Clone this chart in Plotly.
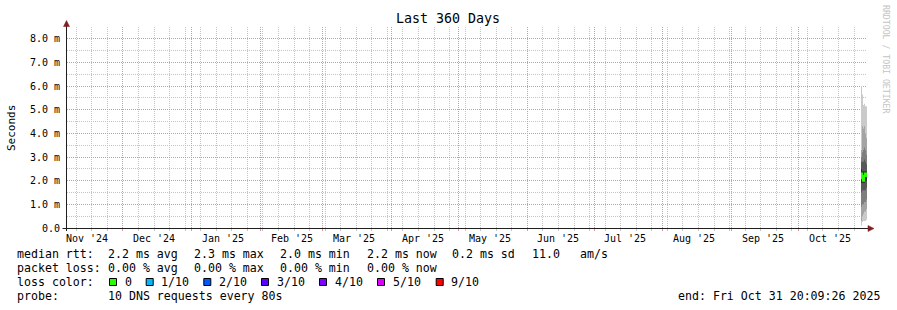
import plotly.graph_objects as go
import pandas as pd

# ---------------- data ----------------
x_start = "2024-11-05 20:09:26"
x_end = "2025-10-31 20:09:26"

month_starts = ["2024-12-01", "2025-01-01", "2025-02-01", "2025-03-01", "2025-04-01",
                "2025-05-01", "2025-06-01", "2025-07-01", "2025-08-01", "2025-09-01",
                "2025-10-01"]
month_label_pos = ["2024-11-15", "2024-12-15", "2025-01-15", "2025-02-15", "2025-03-15",
                   "2025-04-15", "2025-05-15", "2025-06-15", "2025-07-15", "2025-08-15",
                   "2025-09-15", "2025-10-15"]
month_labels = ["Nov '24", "Dec '24", "Jan '25", "Feb '25", "Mar '25", "Apr '25",
                "May '25", "Jun '25", "Jul '25", "Aug '25", "Sep '25", "Oct '25"]

y_tick_vals = [0, 1, 2, 3, 4, 5, 6, 7, 8]
y_tick_text = ["0.0", "1.0 m", "2.0 m", "3.0 m", "4.0 m", "5.0 m", "6.0 m", "7.0 m", "8.0 m"]

sample_times = ["2025-10-29 03:20", "2025-10-29 14:10", "2025-10-30 01:00",
                "2025-10-30 11:50", "2025-10-30 22:40", "2025-10-31 09:30"]
# sorted ping round-trip times (ms) per sample, rank 1 (fastest) .. rank 10 (slowest)
ping_rank_01 = [0.10, 0.25, 0.30, 0.30, 0.30, 0.35]
ping_rank_02 = [0.30, 0.50, 0.60, 0.70, 0.70, 0.80]
ping_rank_03 = [0.90, 1.00, 1.00, 1.10, 1.10, 1.20]
ping_rank_04 = [1.50, 1.60, 1.60, 1.60, 1.60, 1.70]
ping_rank_05 = [1.90, 1.90, 1.90, 1.90, 2.00, 2.00]
ping_rank_06 = [2.50, 2.40, 2.40, 2.40, 2.40, 2.40]
ping_rank_07 = [2.80, 2.80, 2.80, 2.90, 2.80, 2.70]
ping_rank_08 = [3.00, 3.20, 3.30, 3.40, 3.30, 3.10]
ping_rank_09 = [3.30, 4.30, 4.20, 4.30, 4.00, 3.80]
ping_rank_10 = [6.00, 5.65, 5.20, 5.25, 5.15, 5.15]
median_rtt_ms = [2.3, 2.1, 2.0, 2.2, 2.3, 2.2]

median_stats = ["2.2 ms avg", "2.3 ms max", "2.0 ms min", "2.2 ms now", "0.2 ms sd", "11.0", "am/s"]
loss_stats = ["0.00 % avg", "0.00 % max", "0.00 % min", "0.00 % now"]
loss_labels = ["0", "1/10", "2/10", "3/10", "4/10", "5/10", "9/10"]
loss_colors = ["#26ff00", "#00b8ff", "#0059ff", "#5e00ff", "#7e00ff", "#dd00ff", "#ff0000"]
probe_text = "10 DNS requests every 80s"
end_text = "end: Fri Oct 31 20:09:26 2025"

# ---------------- layout constants ----------------
W, H = 897, 310
L, R, T, B = 67, 30, 27, 82
PW = W - L - R
PH = H - T - B
BOTTOM = H - B
MONO = "DejaVu Sans Mono"


def px(xp):
    return (xp - L) / PW


def py(yp):
    return (BOTTOM - yp) / PH


ranks = [ping_rank_01, ping_rank_02, ping_rank_03, ping_rank_04, ping_rank_05,
         ping_rank_06, ping_rank_07, ping_rank_08, ping_rank_09, ping_rank_10]
xs = sample_times + [x_end]


def ext(v):
    return list(v) + [v[-1]]


fig = go.Figure()
half = len(ranks) // 2
for i in range(half):
    c = int(190 / half * (half - 1 - i)) + 50
    col = "#%02x%02x%02x" % (c, c, c)
    fig.add_trace(go.Scatter(x=xs, y=ext(ranks[i]), mode="lines", line=dict(width=0, shape="hv"),
                             showlegend=False, hoverinfo="skip"))
    fig.add_trace(go.Scatter(x=xs, y=ext(ranks[len(ranks) - 1 - i]), mode="lines",
                             line=dict(width=0, shape="hv"), fill="tonexty", fillcolor=col,
                             showlegend=False, hoverinfo="skip"))

fig.add_trace(go.Scatter(x=xs, y=ext(median_rtt_ms), mode="lines",
                         line=dict(color=loss_colors[0], width=2, shape="hv"),
                         showlegend=False, hoverinfo="skip"))

grid_minor = "#c4c4c4"
grid_major = "#eb9090"
DASH = "1px,1px"

# weekly minor grid (Sundays), skipping month starts
weeks = [d.strftime("%Y-%m-%d") for d in pd.date_range("2024-11-10", "2025-10-31", freq="7D")]
weeks = [d for d in weeks if d not in month_starts]
half_steps = [v + 0.5 for v in y_tick_vals]

fig.update_layout(
    width=W, height=H,
    margin=dict(l=L, r=R, t=T, b=B, pad=0),
    paper_bgcolor="white", plot_bgcolor="white",
    showlegend=False,
    xaxis=dict(
        type="date", range=[x_start, x_end],
        tickmode="array", tickvals=month_starts, ticktext=[""] * len(month_starts),
        showticklabels=False, ticks="outside", ticklen=2, tickcolor=grid_major,
        showgrid=True, gridcolor=grid_major, griddash=DASH, gridwidth=1,
        minor=dict(tickmode="array", tickvals=weeks, showgrid=True,
                   gridcolor=grid_minor, griddash=DASH, ticks="outside",
                   ticklen=2, tickcolor=grid_minor),
        showline=False, zeroline=False, fixedrange=True,
    ),
    yaxis=dict(
        range=[0, 8.5], tickmode="array", tickvals=y_tick_vals, ticktext=y_tick_text,
        tickfont=dict(family=MONO, size=10, color="black"),
        ticks="outside", ticklen=4, tickcolor="rgba(0,0,0,0)",
        showgrid=True, gridcolor=grid_major, griddash=DASH, gridwidth=1,
        minor=dict(tickmode="array", tickvals=half_steps, showgrid=True,
                   gridcolor=grid_minor, griddash=DASH),
        showline=False, zeroline=False, fixedrange=True,
    ),
)

shapes = []
axis_col = "#1f1f1f"
shapes.append(dict(type="line", xref="paper", yref="paper", x0=px(62.5), x1=px(869),
                   y0=py(228.5), y1=py(228.5), line=dict(color=axis_col, width=1)))
shapes.append(dict(type="line", xref="paper", yref="paper", x0=px(66.5), x1=px(66.5),
                   y0=py(231), y1=py(25), line=dict(color=axis_col, width=1)))
arrow_col = "#801f1f"
shapes.append(dict(type="path", xref="paper", yref="paper",
                   path="M %f,%f L %f,%f L %f,%f Z" % (px(63.5), py(26.5), px(69.5), py(26.5), px(66.5), py(20.5)),
                   fillcolor=arrow_col, line=dict(color=arrow_col, width=0.5)))
shapes.append(dict(type="path", xref="paper", yref="paper",
                   path="M %f,%f L %f,%f L %f,%f Z" % (px(868), py(225.5), px(868), py(231.5), px(874), py(228.5)),
                   fillcolor=arrow_col, line=dict(color=arrow_col, width=0.5)))

ann = []


def text(xp, yp, s, size=11.6, anchor="left", color="black", angle=0, family=MONO):
    ann.append(dict(xref="paper", yref="paper", x=px(xp), y=py(yp), text=s.replace(" ", "\u00a0"),
                    showarrow=False, xanchor=anchor, yanchor="middle", borderpad=0,
                    textangle=angle, font=dict(family=family, size=size, color=color)))


# month labels (centred mid-month, below the axis)
for d, lab in zip(month_label_pos, month_labels):
    ann.append(dict(xref="x", yref="paper", x=d, y=py(238), text=lab.replace(" ", "\u00a0"),
                    showarrow=False, xanchor="center", yanchor="middle", borderpad=0,
                    font=dict(family=MONO, size=10, color="black")))

text(448, 19, "Last 360 Days", size=13.3, anchor="center")
text(11, 128, "Seconds", size=11, anchor="center", angle=-90)
text(886, 59, "RRDTOOL / TOBI OETIKER", size=8.2, anchor="center", color="#c4c4c4", angle=90)

# legend lines
y1, y2, y3, y4 = 254, 268, 282, 296
text(16, y1, "median rtt:")
for xp, s in zip([107.3, 193.3, 279.3, 365.7, 451.3, 531, 579.3], median_stats):
    text(xp, y1, s)
text(16, y2, "packet loss:")
for xp, s in zip([107.3, 193.3, 279.3, 365.7], loss_stats):
    text(xp, y2, s)
text(16, y3, "loss color:")
box_x = [109, 145.7, 203.3, 261, 319, 377, 435.7]
for bx, lab, col in zip(box_x, loss_labels, loss_colors):
    shapes.append(dict(type="rect", xref="paper", yref="paper", x0=px(bx + 0.5), x1=px(bx + 7.5),
                       y0=py(285.5), y1=py(278.5), fillcolor=col, line=dict(color="black", width=1)))
    text(bx + 14.5, y3, lab)
text(16, y4, "probe:")
text(107.3, y4, probe_text)
text(881, y4, end_text, anchor="right")

fig.update_layout(shapes=shapes, annotations=ann)
fig.write_html("out.html")
